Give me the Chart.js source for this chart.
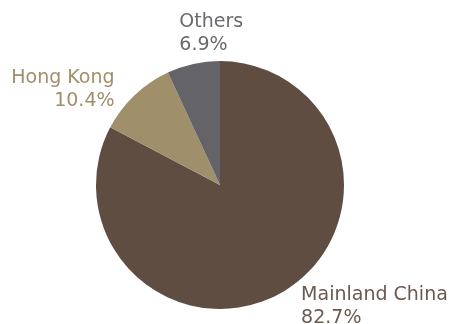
<!DOCTYPE html>
<html>
<head>
<meta charset="utf-8">
<script src="https://cdn.jsdelivr.net/npm/chart.js@4"></script>
<style>
  html, body { margin: 0; padding: 0; background: #fff; }
  #wrap { width: 454px; height: 324px; position: relative; }
</style>
</head>
<body>
<div id="wrap"><canvas id="salesPie"></canvas></div>
<script>
// revenue split by region (%)
var regions = ['Mainland China', 'Hong Kong', 'Others'];
var shares = [82.7, 10.4, 6.9];
var sliceColors = ['#5f4d42', '#a08f6b', '#646468'];
var labelColors = ['#6a5a50', '#a08f6b', '#69696e'];

// where each label sits relative to the outer edge of its slice
var labelPlace = [
    { dx: 17, dy: -5, align: 'left' },
    { dx: -20, dy: -26, align: 'right' },
    { dx: -14, dy: -51, align: 'left' }
];

var FONT = '19px "DejaVu Sans"';

var sliceLabels = {
    id: 'sliceLabels',
    afterDatasetsDraw: function(chart) {
        var ctx = chart.ctx;
        var arcs = chart.getDatasetMeta(0).data;
        ctx.save();
        ctx.font = FONT;
        ctx.textBaseline = 'alphabetic';
        arcs.forEach(function(arc, i) {
            var mid = (arc.startAngle + arc.endAngle) / 2;
            var ax = arc.x + Math.cos(mid) * arc.outerRadius;
            var ay = arc.y + Math.sin(mid) * arc.outerRadius;
            var p = labelPlace[i];
            ctx.fillStyle = labelColors[i];
            ctx.textAlign = p.align;
            ctx.fillText(regions[i], ax + p.dx, ay + p.dy + 14);
            ctx.fillText(shares[i].toFixed(1) + '%', ax + p.dx, ay + p.dy + 37);
        });
        ctx.restore();
    }
};

new Chart(document.getElementById('salesPie').getContext('2d'), {
    type: 'pie',
    data: {
        labels: regions,
        datasets: [{
            data: shares,
            backgroundColor: sliceColors,
            borderWidth: 0
        }]
    },
    options: {
        responsive: true,
        maintainAspectRatio: false,
        animation: false,
        layout: { padding: { left: 96, right: 110, top: 61, bottom: 15 } },
        plugins: {
            legend: { display: false },
            tooltip: { enabled: false }
        }
    },
    plugins: [sliceLabels]
});
</script>
</body>
</html>
